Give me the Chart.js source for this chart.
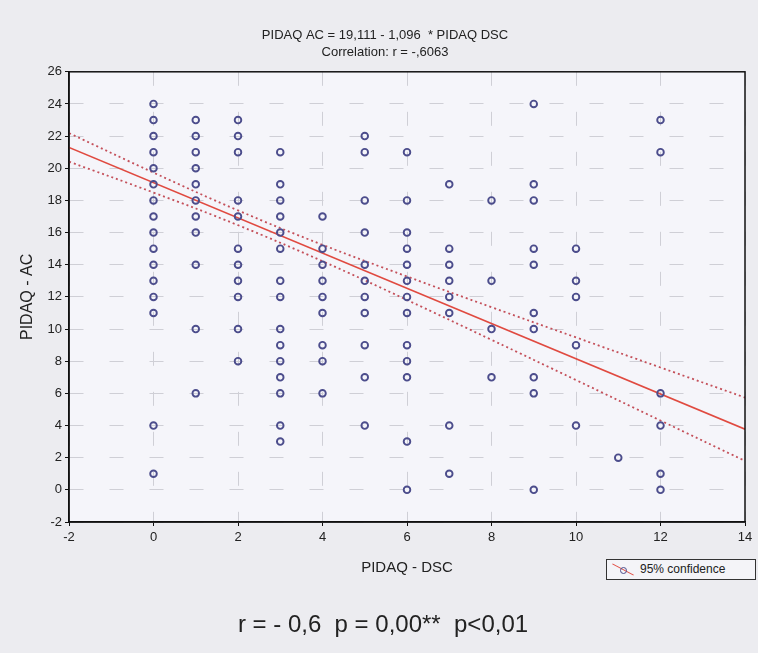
<!DOCTYPE html>
<html>
<head>
<meta charset="utf-8">
<script src="https://cdn.jsdelivr.net/npm/chart.js@4"></script>
<style>
  html, body { margin: 0; padding: 0; background: #ececf0; }
  #wrap { position: relative; width: 758px; height: 653px; font-family: "Liberation Sans", Arial, sans-serif; }
  #legend { position: absolute; left: 606px; top: 559px; width: 148px; height: 19px; border: 1px solid #333; background: #f4f4f8; font-size: 12px; color: #222; }
  #legend .txt { position: absolute; left: 33px; top: 2px; }
  #legend .ln { position: absolute; left: 4px; top: 9px; width: 24px; height: 0; border-top: 1.5px solid #e04a40; transform: rotate(28deg); }
  #legend .pt { position: absolute; left: 13px; top: 7px; width: 5px; height: 5px; border: 1.8px solid #4c4d8c; border-radius: 50%; }
  #stats { position: absolute; left: 0; width: 766px; top: 610px; text-align: center; font-size: 24px; color: #222; }
</style>
</head>
<body>
<div id="wrap">
  <canvas id="graphic" width="758" height="653"></canvas>
  <div id="legend"><span class="ln"></span><span class="pt"></span><span class="txt">95% confidence</span></div>
  <div id="stats">r = - 0,6&nbsp; p = 0,00**&nbsp; p&lt;0,01</div>
</div>
<script>
// PIDAQ - DSC valores (eje x) y PIDAQ - AC leidos por columna
const dscLevels = [0, 1, 2, 3, 4, 5, 6, 7, 8, 9, 10, 11, 12];
const acByDsc = [
    [24, 23, 22, 21, 20, 19, 18, 17, 16, 15, 14, 13, 12, 11, 4, 1],
    [23, 22, 21, 20, 19, 18, 17, 16, 14, 10, 6],
    [23, 22, 21, 18, 17, 15, 14, 13, 12, 10, 8],
    [21, 19, 18, 17, 16, 15, 13, 12, 10, 9, 8, 7, 6, 4, 3],
    [17, 15, 14, 13, 12, 11, 9, 8, 6],
    [22, 21, 18, 16, 14, 13, 12, 11, 9, 7, 4],
    [21, 18, 16, 15, 14, 13, 12, 11, 9, 8, 7, 3, 0],
    [19, 15, 14, 13, 12, 11, 4, 1],
    [18, 13, 10, 7],
    [24, 19, 18, 15, 14, 11, 10, 7, 6, 0],
    [15, 13, 12, 9, 4],
    [2],
    [23, 21, 6, 4, 1, 0]
];

// recta de regresion (extremos) y bandas del 95%
const fitX = [-2, 14];
const fitY = [21.30, 3.77];
const bandX = [-2, 0, 2, 4, 6, 8, 10, 12, 14];
const bandUpper = [22.19, 19.73, 17.38, 15.24, 13.27, 11.36, 9.48, 7.61, 5.74];
const bandLower = [20.41, 18.49, 16.46, 14.22, 11.81, 9.33, 6.83, 4.31, 1.80];

const xTicks = [-2, 0, 2, 4, 6, 8, 10, 12, 14];
const yTicks = [-2, 0, 2, 4, 6, 8, 10, 12, 14, 16, 18, 20, 22, 24, 26];

const points = [];
dscLevels.forEach((x, i) => acByDsc[i].forEach(y => points.push({ x, y })));

const font = '"Liberation Sans", Arial, sans-serif';

const plotBox = {
    id: 'plotBox',
    beforeDraw(chart) {
        const { ctx, chartArea: a } = chart;
        ctx.save();
        ctx.fillStyle = '#f5f5fa';
        ctx.fillRect(a.left, a.top, a.right - a.left, a.bottom - a.top);
        ctx.restore();
    },
    afterDraw(chart) {
        const { ctx, chartArea: a } = chart;
        ctx.save();
        ctx.strokeStyle = '#111';
        ctx.lineWidth = 1.5;
        ctx.strokeRect(a.left, a.top, a.right - a.left, a.bottom - a.top);
        ctx.restore();
    }
};

new Chart(document.getElementById('graphic').getContext('2d'), {
    type: 'scatter',
    data: {
        datasets: [
            {
                label: 'datos',
                data: points,
                pointStyle: 'circle',
                pointRadius: 3.3,
                borderWidth: 1.9,
                borderColor: '#4c4d8c',
                backgroundColor: 'rgba(0,0,0,0)',
                order: 1
            },
            {
                type: 'line',
                label: 'fit',
                data: fitX.map((x, i) => ({ x, y: fitY[i] })),
                borderColor: '#e04a40',
                borderWidth: 1.6,
                pointRadius: 0,
                fill: false,
                order: 2
            },
            {
                type: 'line',
                label: 'upper',
                data: bandX.map((x, i) => ({ x, y: bandUpper[i] })),
                borderColor: '#c4505a',
                borderWidth: 1.8,
                borderDash: [2, 3],
                pointRadius: 0,
                tension: 0.4,
                fill: false,
                order: 2
            },
            {
                type: 'line',
                label: 'lower',
                data: bandX.map((x, i) => ({ x, y: bandLower[i] })),
                borderColor: '#c4505a',
                borderWidth: 1.8,
                borderDash: [2, 3],
                pointRadius: 0,
                tension: 0.4,
                fill: false,
                order: 2
            }
        ]
    },
    options: {
        responsive: false,
        animation: false,
        layout: { padding: { left: 25, right: 13, top: 0, bottom: 76 } },
        scales: {
            x: {
                type: 'linear',
                min: -2,
                max: 14,
                afterBuildTicks: s => { s.ticks = xTicks.map(v => ({ value: v })); },
                afterFit: s => { s.height = 55; },
                ticks: { font: { family: font, size: 13 }, color: '#222', padding: 4 },
                grid: { color: '#cfcfd6', tickColor: '#111', tickLength: 4 },
                border: { display: true, color: '#111', width: 1.5, dash: [14, 26] },
                title: { display: true, text: 'PIDAQ - DSC', font: { family: font, size: 15 }, color: '#222', padding: 0 }
            },
            y: {
                type: 'linear',
                min: -2,
                max: 26,
                afterBuildTicks: s => { s.ticks = yTicks.map(v => ({ value: v })); },
                afterFit: s => { s.width = 44; },
                ticks: { font: { family: font, size: 13 }, color: '#222', padding: 3 },
                grid: { color: '#cfcfd6', tickColor: '#111', tickLength: 4 },
                border: { display: true, color: '#111', width: 1.5, dash: [14, 26] },
                title: { display: true, text: 'PIDAQ - AC', font: { family: font, size: 16 }, color: '#222', padding: { top: -7, bottom: 0 } }
            }
        },
        plugins: {
            legend: { display: false },
            tooltip: { enabled: false },
            title: {
                display: true,
                text: ['PIDAQ AC = 19,111 - 1,096  * PIDAQ DSC', 'Correlation: r = -,6063'],
                font: { family: font, size: 13, weight: 'normal', lineHeight: 1.3 },
                color: '#222',
                padding: { top: 27, bottom: 11 }
            }
        }
    },
    plugins: [plotBox]
});
</script>
</body>
</html>
